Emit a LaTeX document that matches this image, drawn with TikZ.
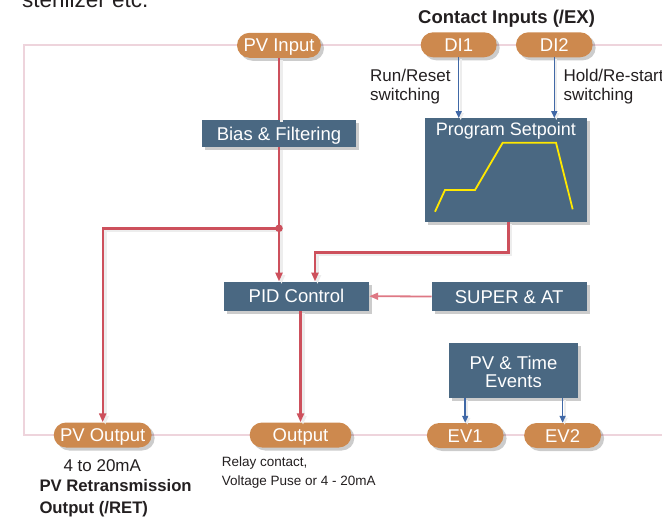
\documentclass[tikz,border=0pt]{standalone}
\usepackage{fontspec}
\setmainfont{Liberation Sans}
\usetikzlibrary{arrows.meta,shadows,calc}
\definecolor{pillc}{RGB}{205,137,78}
\definecolor{boxc}{RGB}{74,104,130}
\definecolor{redc}{RGB}{205,80,92}
\definecolor{redlt}{RGB}{222,120,132}
\definecolor{bluec}{RGB}{64,104,166}
\definecolor{framec}{RGB}{238,212,220}
\definecolor{yelc}{RGB}{255,232,0}
\definecolor{txtc}{RGB}{35,31,32}
\newcommand{\mynfont}{\fontsize{18.5}{17.5}\selectfont}
\newcommand{\mylfont}{\fontsize{17}{19}\selectfont}
\newcommand{\mysfont}{\fontsize{13.5}{18.5}\selectfont}
\begin{document}
\begin{tikzpicture}[x=1pt,y=-1pt,
  shad/.style={drop shadow={shadow xshift=3pt,shadow yshift=-3pt,opacity=0.2,fill=black}},
  pillnode/.style={shad, fill=pillc, rounded corners=12.5pt, minimum height=25pt, inner sep=0pt,
     text=white, font=\mynfont, text height=13.2pt, text depth=0pt},
  boxnode/.style={shad, fill=boxc, inner sep=0pt, text=white, font=\mynfont, text height=13.2pt, text depth=0pt},
  wtext/.style={inner sep=0pt, text=white, font=\mynfont, text height=13.2pt, text depth=0pt},
  lbl/.style={anchor=base west, inner sep=0pt, text=txtc, font=\mylfont},
  redl/.style={draw=redc, line width=2.4pt,
     preaction={draw=black!7, line width=3pt, transform canvas={xshift=2.5pt,yshift=-2.5pt}}},
  rtip/.style={-{Triangle[length=9pt,width=7pt]}},
  bluel/.style={draw=bluec, line width=1.5pt, -{Triangle[length=7pt,width=6pt]},
     preaction={draw=black!7, line width=2pt, transform canvas={xshift=2pt,yshift=-2pt}}},
  framel/.style={draw=framec, line width=2.2pt}
]
\useasboundingbox (0,0) rectangle (662,519);

% outer frame
\draw[framel] (680,45) -- (24,45) -- (24,435) -- (680,435);

% top text (partially cut)
\node[lbl, font=\fontsize{22.5}{24}\selectfont] (ster) at (22,8) {sterilizer etc.};
\node[lbl, font=\bfseries\fontsize{18.5}{20}\selectfont] (title) at (418,24) {Contact Inputs (/EX)};

% pills
\node[pillnode, minimum width=84pt] (pvin) at (279,45.3) {PV Input};
\node[pillnode, minimum width=76pt] (di1) at (458.7,44.8) {DI1};
\node[pillnode, minimum width=76.7pt] (di2) at (554.3,44.8) {DI2};
\node[pillnode, minimum width=98pt] (pvout) at (102.7,435) {PV Output};
\node[pillnode, minimum width=101.7pt] (out) at (300.5,435) {Output};
\node[pillnode, minimum width=76.7pt] (ev1) at (465.2,435.5) {EV1};
\node[pillnode, minimum width=77pt] (ev2) at (562.6,435.5) {EV2};

% boxes
\node[boxnode, minimum width=154pt, minimum height=27.5pt] (bias) at (279,133.5) {Bias \& Filtering};
\node[boxnode, minimum width=161.7pt, minimum height=103.4pt] (ps) at (505.8,170) {};
\node[wtext, font=\fontsize{18}{19}\selectfont] (pstitle) at (505.8,129.3) {Program Setpoint};
\node[boxnode, minimum width=145pt, minimum height=29pt] (pid) at (296.5,296.2) {PID Control};
\node[boxnode, minimum width=155pt, minimum height=28.5pt] (super) at (509.2,296.5) {SUPER \& AT};
\node[boxnode, minimum width=128.3pt, minimum height=54.4pt] (pvte) at (513.5,370.5) {};
\node[wtext] (pvte1) at (513.5,363.3) {PV \& Time};
\node[wtext] (pvte2) at (513.5,380.7) {Events};

% yellow profile
\draw[yelc, line width=1.8pt, line join=miter] (435,211.7) -- (445,190) -- (475,190) -- (502.7,142.7) -- (556,142.7) -- (572.7,209.3);

% labels
\node[lbl] (rr1) at (370,82) {Run/Reset};
\node[lbl] (rr2) at (370,101) {switching};
\node[lbl] (hr1) at (563.3,82) {Hold/Re-start};
\node[lbl] (hr2) at (563.3,101) {switching};
\node[lbl] (ma) at (63.3,471) {4 to 20mA};
\node[lbl, font=\bfseries\fontsize{16.7}{18}\selectfont] (ret1) at (39.3,491) {PV Retransmission};
\node[lbl, font=\bfseries\fontsize{16.7}{18}\selectfont] (ret2) at (39.3,513) {Output (/RET)};
\node[lbl, font=\mysfont] (rel1) at (221.7,466.5) {Relay contact,};
\node[lbl, font=\mysfont] (rel2) at (221.7,485) {Voltage Puse or 4 - 20mA};

% red connectors
\coordinate (junc) at (279,228.3);
\coordinate (bend) at (508.3,252.3);
\draw[redl] (pvin.south) -- (bias.north);
\draw[redl, rtip] (bias.south) -- (junc) -- (junc |- pid.north);
\draw[redl, rtip] (junc) -| (pvout.north);
\fill[redc] (junc) circle (3.8pt);
\draw[redl, rtip] (bend |- ps.south) -- (bend) -| ([xshift=18.5pt]pid.north);
\draw[draw=redlt, line width=1.8pt, rtip] (super.west) -- (pid.east);
\draw[redl, rtip] (out.north |- pid.south) -- (out.north);

% blue connectors
\draw[bluel] (di1.south) -- (di1.south |- ps.north);
\draw[bluel] (di2.south) -- (di2.south |- ps.north);
\draw[bluel] (ev1.north |- pvte.south) -- (ev1.north);
\draw[bluel] (ev2.north |- pvte.south) -- (ev2.north);
\end{tikzpicture}
\end{document}
